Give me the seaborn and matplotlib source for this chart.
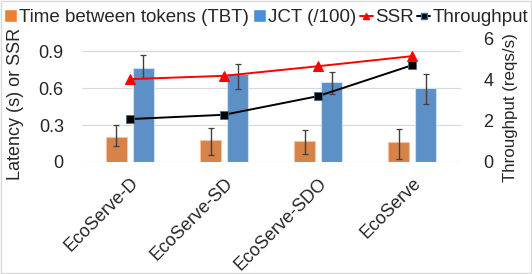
import matplotlib
matplotlib.use('Agg')
import matplotlib.pyplot as plt
import seaborn as sns
import numpy as np
import pandas as pd
from matplotlib.lines import Line2D
from matplotlib.patches import Patch

# values
systems = ['EcoServe-D', 'EcoServe-SD', 'EcoServe-SDO', 'EcoServe']
tbt = [0.20, 0.175, 0.17, 0.16]
tbt_lo = [0.13, 0.057, 0.062, 0.024]
tbt_hi = [0.30, 0.273, 0.26, 0.268]
jct = [0.765, 0.711, 0.649, 0.60]
jct_lo = [0.684, 0.592, 0.549, 0.47]
jct_hi = [0.868, 0.795, 0.735, 0.714]
ssr = [0.673, 0.70, 0.778, 0.86]
throughput = [2.09, 2.30, 3.21, 4.72]

left_ticks = [0, 0.3, 0.6, 0.9]
right_ticks = [0, 2, 4, 6]

orange = '#ED7D31'
blue = '#4A90D9'

sns.set_style('white')
plt.rcParams['font.family'] = ['Liberation Sans', 'DejaVu Sans']

df = pd.DataFrame({
    'system': systems * 2,
    'metric': ['Time between tokens (TBT)'] * 4 + ['JCT (/100)'] * 4,
    'value': tbt + jct,
})

fig = plt.figure(figsize=(5.32, 2.74), dpi=100)
ax = fig.add_axes([0.154, 0.409, 0.713, 0.449])

sns.barplot(data=df, x='system', y='value', hue='metric', ax=ax,
            palette=[orange, blue], width=0.572, gap=0.22,
            errorbar=None, legend=False, zorder=2)

# bar outlines and error bars
n = len(systems)
for i, p in enumerate(ax.patches[:2 * n]):
    p.set_edgecolor('#cfe0f3' if i >= n else '#f5c3a3')
    p.set_linewidth(0.8)
for k, (lo, hi) in enumerate([(tbt_lo, tbt_hi), (jct_lo, jct_hi)]):
    for i in range(n):
        p = ax.patches[k * n + i]
        xc = p.get_x() + p.get_width() / 2
        ax.errorbar(xc, (lo[i] + hi[i]) / 2, yerr=(hi[i] - lo[i]) / 2,
                    fmt='none', ecolor='#404040', elinewidth=1.0,
                    capsize=2.5, capthick=0.9, zorder=3)

ax.set_ylim(0, 1.0)
ax.set_yticks(left_ticks)
ax.set_yticklabels(['0', '0.3', '0.6', '0.9'], fontsize=13)
ax.set_xlim(-0.51, 3.52)
ax.grid(axis='y', color='#d9d9d9', linewidth=0.9, zorder=0)
ax.set_axisbelow(True)
for s in ax.spines.values():
    s.set_visible(False)
ax.tick_params(axis='both', length=0)
ax.tick_params(axis='y', pad=13)
ax.set_xlabel('')
# the left label is narrower in the reference
ax.set_ylabel('Latency (s) or SSR', fontsize=13,
              family=['Liberation Sans Narrow', 'Liberation Sans'])
ax.yaxis.set_label_coords(-0.152, 0.47)
ax.set_xticks(range(n))
ax.set_xticklabels(systems, rotation=45, ha='right', rotation_mode='anchor',
                   fontsize=13)
ax.tick_params(axis='x', pad=9)

# lines on twin axis
ax2 = ax.twinx()
ax2.set_ylim(0, 6)
x_pos = np.arange(n)
sns.lineplot(x=x_pos, y=np.array(ssr) * 6, ax=ax2, color='#ff0000',
             marker='^', markersize=7, markeredgecolor='#ff0000',
             linewidth=1.4, zorder=4)
sns.lineplot(x=x_pos, y=throughput, ax=ax2, color='black', marker='s',
             markersize=6, markeredgecolor='#3c6e8f', markeredgewidth=0.6,
             linewidth=1.4, zorder=4)
ax2.set_xlim(-0.51, 3.52)
ax2.set_yticks(right_ticks)
ax2.set_yticklabels([str(t) for t in right_ticks], fontsize=13)
ax2.tick_params(axis='y', length=0, pad=16)
for s in ax2.spines.values():
    s.set_visible(False)
ax2.set_ylabel('Throughput (reqs/s)', fontsize=12.2)
ax2.yaxis.set_label_coords(1.111, 0.443)

handles = [
    Patch(facecolor=orange, label='Time between tokens (TBT)'),
    Patch(facecolor=blue, label='JCT (/100)'),
    Line2D([0], [0], color='#ff0000', marker='^', markersize=5, lw=1.4, label='SSR'),
    Line2D([0], [0], color='black', marker='s', markersize=4, lw=1.4,
           markeredgecolor='#3c6e8f', label='Throughput'),
]
fig.legend(handles=handles, loc='center', bbox_to_anchor=(0.5, 0.935), ncol=4,
           frameon=False, fontsize=13.5, handlelength=0.7, handleheight=0.7,
           handletextpad=0.1, columnspacing=0.2, borderaxespad=0)
fig.patches.append(plt.Rectangle((0.002, 0.004), 0.996, 0.992, transform=fig.transFigure,
                                 fill=False, edgecolor='#d9d9d9', linewidth=1))

fig.savefig('out.png', dpi=100)
